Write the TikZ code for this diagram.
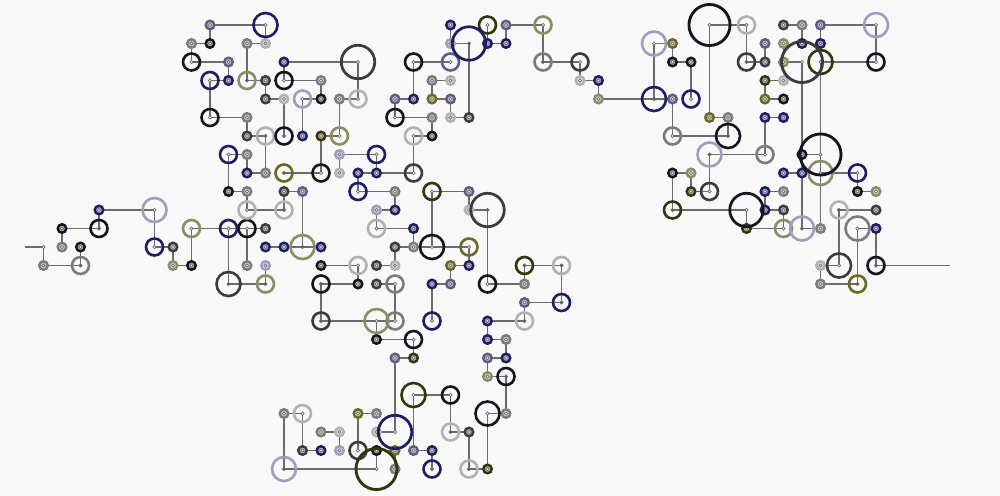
\documentclass[tikz,border=0pt]{standalone}
\usepackage{xcolor}
\usepackage{tikz}
\usetikzlibrary{backgrounds}

\definecolor{cK}{HTML}{15151F}
\definecolor{cN}{HTML}{1E1E62}
\definecolor{cP}{HTML}{5E5E84}
\definecolor{cV}{HTML}{9E9EBE}
\definecolor{cD}{HTML}{3C3C3C}
\definecolor{cG}{HTML}{7C7C7C}
\definecolor{cL}{HTML}{B2B2B2}
\definecolor{cO}{HTML}{34340E}
\definecolor{cW}{HTML}{6A6A26}
\definecolor{cY}{HTML}{8C8C66}
\definecolor{cE}{HTML}{6C6C6C}
\definecolor{cB}{HTML}{F8F8F8}
\definecolor{hw}{HTML}{FFFFFF}
\definecolor{hd}{HTML}{555555}

\begin{document}
\begin{tikzpicture}[x=0.5cm, y=-0.5cm,
    link/.style={draw=cE, line width=1.15pt},
    sm/.style={circle, inner sep=0pt, minimum size=0.23cm, line width=1.9pt},
    md/.style={circle, inner sep=0pt, minimum size=0.46cm, line width=2pt},
    lg/.style={circle, inner sep=0pt, minimum size=0.65cm, line width=2pt},
    xl/.style={circle, inner sep=0pt, minimum size=0.905cm, line width=2.1pt},
    xxl/.style={circle, inner sep=0pt, minimum size=1.11cm, line width=2.2pt},
    hub/.style={path picture={\filldraw[draw=cE, fill=#1, line width=0.5pt]
        (path picture bounding box.center) circle (0.045cm);}},
  ]
    \useasboundingbox (-0.3514,-1.3514) rectangle (53.703,25.459);

    % free ends
    \coordinate (n1-12) at (1,12);
    \coordinate (n2-12) at (2,12);
    \coordinate (n51-13) at (51,13);

    % small rings
    \foreach \i/\j/\c in {
        2/13/G, 4/12/K, 3/12/G, 3/11/K, 5/10/N, 9/12/D, 9/13/Y, 10/13/K, 12/9/K, 13/9/G,
        11/0/P, 11/1/K, 10/1/G, 13/1/G, 14/1/L, 12/2/P, 15/2/N, 12/3/N, 14/3/D, 17/3/G,
        14/4/D, 15/4/L, 17/4/K, 18/4/G, 13/5/G, 13/6/D, 16/6/N, 17/6/O,
        13/7/G, 18/7/V, 13/8/N, 14/8/G, 18/8/L, 19/8/N, 20/8/N, 23/6/K, 15/9/D, 16/9/P,
        21/9/G, 20/10/V, 21/10/N, 14/11/D, 22/11/N, 14/12/N, 15/12/N, 17/12/N, 21/12/D,
        22/12/G, 13/13/G, 14/13/V, 17/13/K, 20/13/D, 21/13/L, 24/13/W, 19/14/K, 20/14/D,
        23/14/N, 24/14/P,
        24/0/N, 27/0/P, 24/1/V, 26/1/N, 27/1/N, 23/3/G, 24/3/L, 31/3/L, 32/3/N, 21/4/P,
        22/4/N, 23/4/W, 24/4/P, 32/4/Y, 23/5/G, 24/5/L, 25/5/D,
        36/1/W, 36/2/K, 37/2/K, 36/4/P, 38/5/W, 39/5/G, 41/1/P, 41/2/D, 41/3/O, 41/4/W,
        41/5/N, 42/0/D, 42/1/Y, 42/2/Y, 42/3/L, 42/4/K, 42/5/N, 43/0/G, 43/1/N, 44/0/P,
        44/1/N,
        36/8/K, 37/8/Y, 37/9/O, 43/7/K, 41/9/N, 42/9/G, 42/8/N, 43/8/N, 41/10/N, 42/10/D,
        40/11/O, 44/11/G, 46/9/K, 47/9/Y, 47/10/D, 47/11/N, 44/13/L, 44/14/G,
        25/9/P, 25/10/L, 25/13/N, 28/14/G, 28/15/P, 26/16/N, 26/17/N, 27/17/G, 26/18/P,
        27/18/N, 26/19/Y, 27/21/G, 25/22/D, 26/24/O,
        20/17/K, 21/18/P, 22/18/O, 20/22/L, 22/23/P, 23/23/N, 21/23/W, 21/24/G, 20/23/K,
        19/21/W, 20/21/G, 18/22/L, 17/22/G, 18/23/V, 17/23/N, 16/23/D, 15/21/G}
      \node[sm, draw=c\c, fill=c\c!35!white, hub=hw] (n\i-\j) at (\i,\j) {};

    % medium rings
    \foreach \i/\j/\c/\h in {
        4/13/G/hd, 5/11/K/hd, 8/12/N/hw, 10/11/Y/hw, 12/11/N/hw, 13/11/K/hw, 13/10/L/hw,
        10/2/K/hw, 11/3/N/hw, 13/3/Y/hd, 15/3/K/hw, 16/4/V/hw, 19/4/L/hw, 11/5/K/hw,
        14/6/L/hd, 15/6/K/hd, 18/6/Y/hw,
        12/7/N/hw, 20/7/N/hw, 15/8/W/hd, 17/8/K/hw, 22/8/D/hw, 22/6/L/hw, 19/9/N/hw,
        23/9/O/hw, 15/10/L/hd, 20/11/L/hw, 19/13/L/hw, 14/14/Y/hd, 17/14/K/hd, 21/14/G/hw,
        26/0/O/hw, 29/0/Y/hw, 22/2/K/hw, 24/2/P/hw, 29/2/G/hd, 31/2/D/hw, 21/5/K/hw,
        37/4/N/hw, 36/6/G/hw, 40/0/L/hw, 40/2/D/hd, 47/2/K/hw,
        41/7/G/hw, 38/9/D/hw, 36/10/O/hd, 46/8/N/hw, 42/11/Y/hw, 45/10/L/hd, 47/13/K/hd,
        46/14/W/hd,
        25/12/W/hw, 26/14/K/hw, 28/13/O/hd, 30/13/L/hd, 30/15/N/hd, 23/16/N/hw, 28/16/L/hd,
        27/19/K/hd, 24/20/K/hw, 24/22/L/hd, 25/24/L/hd,
        17/16/D/hd, 21/16/G/hw, 22/17/K/hw, 19/23/D/hw, 16/21/L/hw, 23/24/N/hd}
      \node[md, draw=c\c, hub=\h] (n\i-\j) at (\i,\j) {};

    % large rings
    \foreach \i/\j/\c/\h in {
        8/10/V/hw, 12/14/D/hd, 14/0/N/hw, 16/12/Y/hd, 23/12/K/hw, 35/1/V/hw, 35/4/N/hd,
        39/6/K/hd, 47/0/V/hw, 44/2/O/hw, 38/7/V/hd, 44/8/Y/hw, 43/11/V/hd, 46/11/G/hw,
        45/13/D/hw, 26/21/K/hw, 20/16/Y/hw, 22/20/O/hw, 15/24/V/hd}
      \node[lg, draw=c\c, hub=\h] (n\i-\j) at (\i,\j) {};

    % extra large rings
    \foreach \i/\j/\c/\h in {19/2/D/hw, 25/1/N/hd, 26/10/D/hd, 40/10/K/hw, 21/22/N/hw}
      \node[xl, draw=c\c, hub=\h] (n\i-\j) at (\i,\j) {};
    \foreach \i/\j/\c/\h in {38/0/K/hw, 43/2/D/hw, 44/7/K/hw, 20/24/O/hw}
      \node[xxl, draw=c\c, hub=\h] (n\i-\j) at (\i,\j) {};

    \filldraw[draw=cE, fill=white, line width=0.5pt] (n2-12) circle (0.045cm);

    % links
    \begin{pgfonlayer}{background}
      \fill[cB] (-0.3514,-1.3514) rectangle (53.703,25.459);
      \foreach \u/\v in {
          1-12/2-12, 2-12/2-13, 2-13/4-13, 4-13/4-12, 3-12/3-11, 3-11/5-11, 5-11/5-10,
          5-10/8-10, 8-10/8-12, 8-12/9-12, 9-12/9-13, 9-13/10-13, 10-13/10-11,
          10-11/12-11, 12-11/12-14, 12-11/13-11, 12-9/13-9, 13-9/13-10, 12-7/12-9,
          11-0/14-0, 14-0/14-1, 11-0/11-1, 10-1/11-1, 10-1/10-2, 10-2/12-2, 12-2/12-3,
          11-3/12-3, 11-3/11-5, 11-5/13-5, 13-5/13-6, 13-6/14-6, 13-1/14-1, 13-1/13-3,
          13-3/14-3, 14-3/14-4, 14-4/15-4, 15-4/15-6, 15-2/15-3, 15-3/17-3, 17-3/17-4,
          16-4/17-4, 16-4/16-6, 17-6/18-6, 18-6/18-4, 18-4/19-4, 19-4/19-2, 19-2/15-2,
          14-6/14-8, 17-6/17-8,
          22-6/23-6, 22-6/22-8, 12-7/13-7, 13-7/13-8, 13-8/14-8, 18-7/20-7, 18-7/18-8,
          20-7/20-8, 15-8/17-8, 19-8/20-8, 20-8/22-8, 19-8/19-9, 19-9/21-9, 21-9/21-10,
          20-10/21-10, 20-10/20-11, 20-11/22-11, 22-11/22-12, 21-12/22-12, 21-12/21-13,
          20-13/21-13, 20-14/21-14, 22-12/23-12, 15-9/16-9, 16-9/16-12, 13-10/15-10,
          15-9/15-10, 13-11/13-13, 13-11/14-11, 14-12/15-12, 15-12/16-12, 16-12/17-12,
          14-13/14-14, 12-14/14-14, 17-13/19-13, 19-13/19-14, 17-14/19-14, 17-14/17-16,
          23-9/25-9, 23-9/23-12, 23-12/25-12, 25-12/25-13, 24-13/25-13, 24-13/24-14,
          23-14/24-14, 23-14/23-16, 21-14/21-16,
          24-0/24-1, 26-0/26-1, 27-0/29-0, 27-0/27-1, 26-1/27-1, 29-0/29-2, 29-2/31-2,
          31-2/31-3, 31-3/32-3, 32-3/32-4, 32-4/35-4, 24-1/25-1, 25-1/25-5, 24-5/25-5,
          22-2/24-2, 22-2/22-4, 21-4/22-4, 23-3/24-3, 23-3/23-4, 23-4/24-4, 24-4/24-5,
          21-5/23-5, 23-5/23-6, 21-4/21-5,
          35-4/35-1, 35-1/36-1, 36-1/36-2, 36-2/37-2, 37-2/37-4, 35-4/36-4, 36-4/36-6,
          36-6/39-6, 39-6/39-5, 38-5/39-5, 38-0/40-0, 38-0/38-5, 40-0/40-2, 40-2/41-2,
          42-0/43-0, 43-0/43-1, 44-0/47-0, 47-0/47-2, 44-0/44-1, 44-2/47-2, 41-1/41-2,
          41-3/42-3, 41-4/42-4, 41-3/41-4, 41-5/42-5, 41-5/41-7, 42-1/42-2, 42-2/43-2,
          43-2/43-7, 43-7/43-8, 43-8/43-11, 44-2/44-7, 44-7/44-8, 44-8/44-11, 43-7/44-7,
          36-8/37-8, 37-8/37-9, 37-9/38-9, 36-8/36-10, 36-10/40-10, 40-10/40-11,
          40-11/42-11, 38-7/41-7, 38-7/38-9, 41-9/42-9, 41-9/41-10, 41-10/42-10,
          42-10/42-11, 42-8/43-8, 44-8/46-8, 46-8/46-9, 46-9/47-9, 45-10/47-10,
          45-10/45-13, 44-13/45-13, 44-13/44-14, 44-14/46-14, 46-11/46-14, 46-11/47-11,
          47-11/47-13, 47-13/51-13, 43-11/44-11,
          25-9/25-10, 25-10/26-10, 26-10/26-14, 26-14/28-14, 28-13/28-14, 28-13/30-13,
          30-13/30-15, 28-15/30-15, 28-15/28-16, 26-16/28-16, 26-16/26-17, 26-17/27-17,
          27-17/27-18, 26-18/27-18, 26-18/26-19, 26-19/27-19, 27-19/27-21, 26-21/27-21,
          26-21/26-24, 25-24/26-24, 25-22/25-24, 24-22/25-22, 24-20/24-22, 22-20/24-20,
          17-16/20-16, 20-16/21-16, 20-16/20-17, 20-17/22-17, 22-17/22-18, 21-18/22-18,
          21-18/21-22, 20-22/21-22, 22-20/22-23, 22-23/23-23, 23-23/23-24, 15-21/16-21,
          16-21/16-23, 15-21/15-24, 15-24/20-24, 17-22/18-22, 18-22/18-23, 19-21/20-21,
          19-21/19-23, 20-23/20-24, 20-23/21-23, 16-23/17-23, 21-23/21-24}
        \draw[link] (n\u.center) -- (n\v.center);
    \end{pgfonlayer}
  \end{tikzpicture}
\end{document}
